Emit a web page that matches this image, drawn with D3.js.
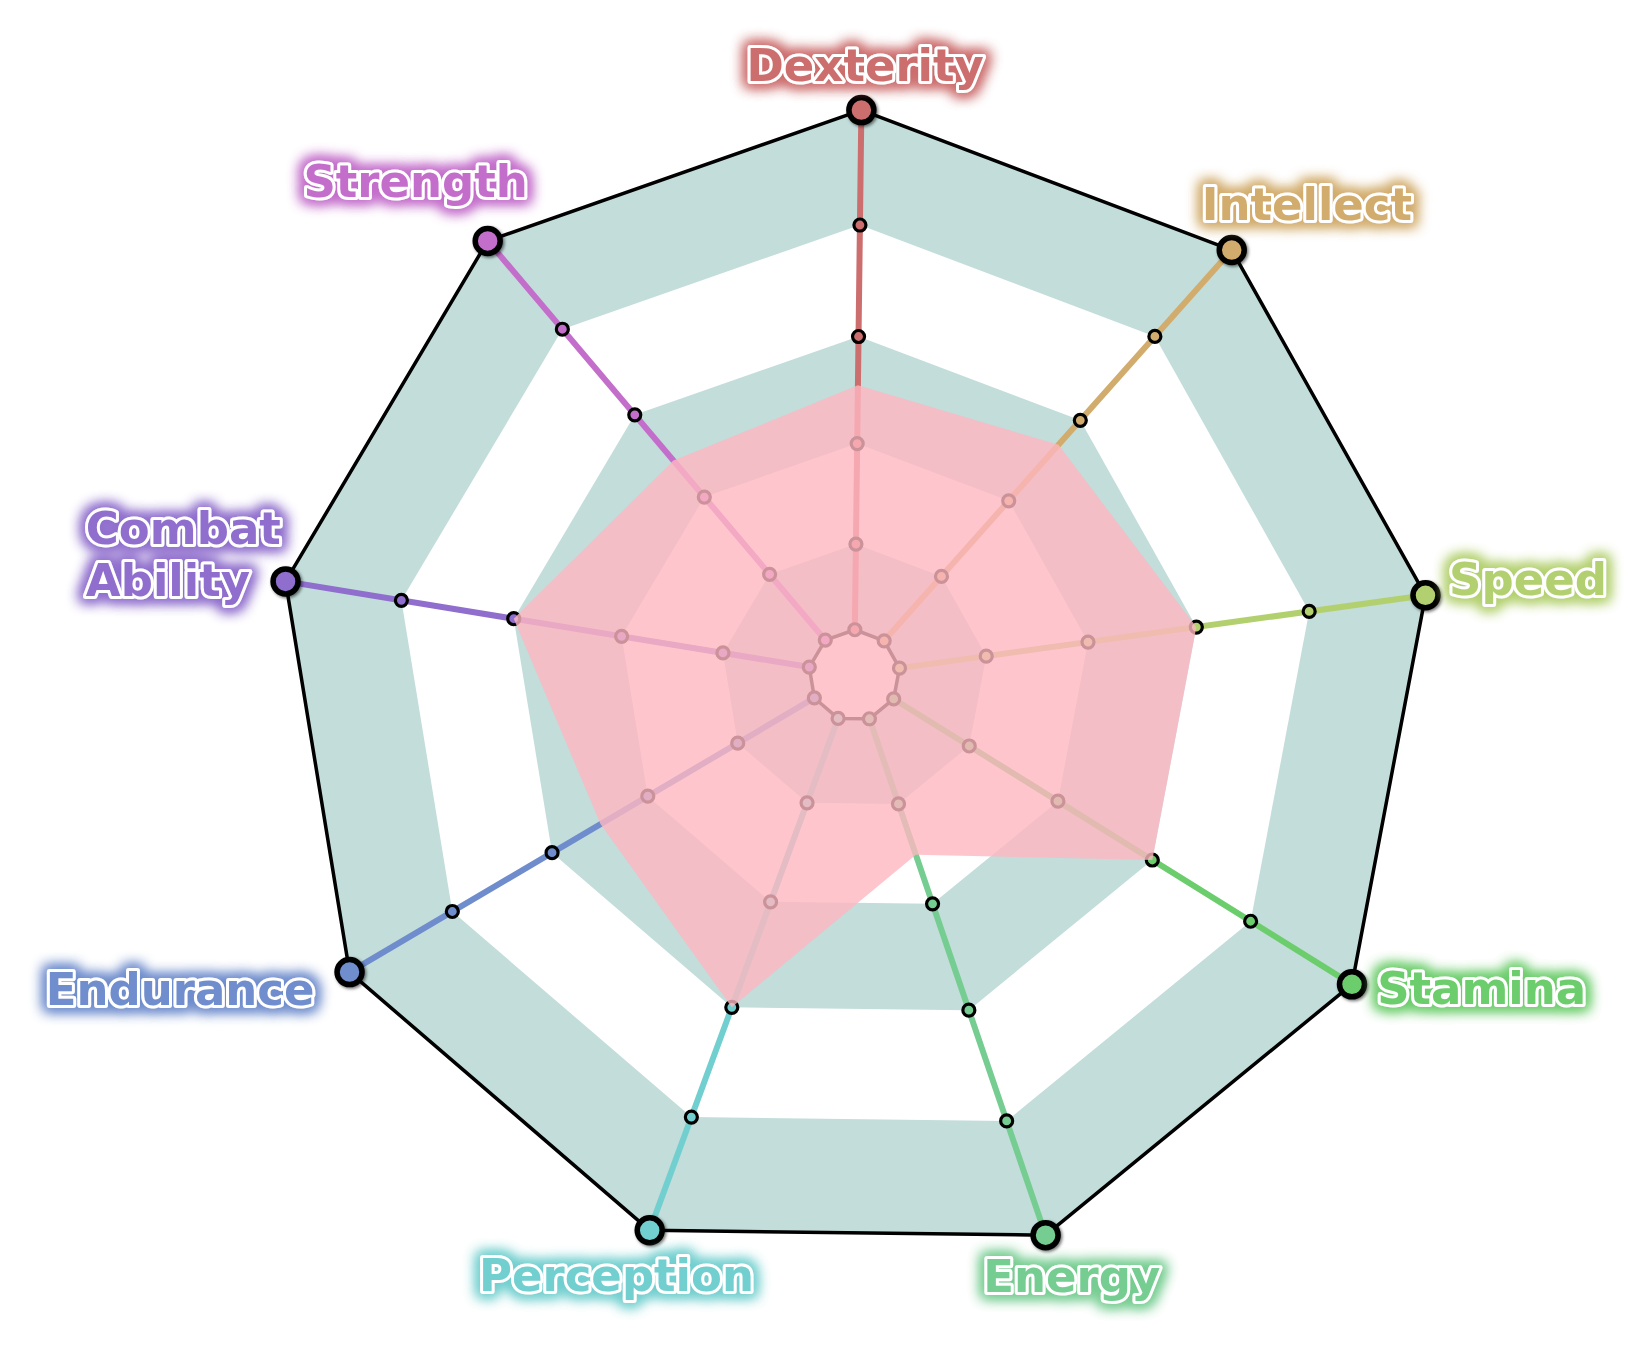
<!DOCTYPE html>
<html><head><meta charset="utf-8">
<script src="https://cdn.jsdelivr.net/npm/d3@7"></script>
<style>html,body{margin:0;padding:0;background:#fff;} svg{display:block;}</style>
</head><body>
<svg id="chart" width="1650" height="1350"></svg>
<script>
// ---- data ----
const categories = ["Dexterity","Intellect","Speed","Stamina","Energy","Perception","Endurance","Combat Ability","Strength"];
const values = [2.55, 2.7, 3, 3, 1.52, 3, 2.5, 3, 2.45];
const tickValues = [0, 1, 2, 3, 4, 5];
// ---- styles ----
const axisColors = ["#cd6e6e","#d2ac6c","#b3d06f","#6ccd6c","#76cd91","#72cfcf","#6f8dcd","#8f6ecd","#c46ecb"];
const bandColor = "#c2ddda";
const areaColor = "#ffb6c1";
// ---- label layout nudges (px) ----
const labelNudgeX = [2, -13, -5, 14, -13, 26, -26, 23, 18];
const labelNudgeY = [0, 10, 0, 0, 0, 4, 14, 0, -3];

const W = 1650, H = 1350;
const cx = 854.3, cy = 674.4;
const rotation = 0.7 * Math.PI / 180;
const drift = 0.025;
const fontSize = 45;

const svg = d3.select("#chart").attr("viewBox", `0 0 ${W} ${H}`);
svg.append("rect").attr("width", W).attr("height", H).attr("fill", "#fff");

const defs = svg.append("defs");
const shadow = defs.append("filter").attr("id", "shadow").attr("x", "-50%").attr("y", "-50%").attr("width", "200%").attr("height", "200%");
shadow.append("feDropShadow").attr("dx", 1.5).attr("dy", 1.5).attr("stdDeviation", 1.5).attr("flood-color", "#000").attr("flood-opacity", 0.55);
axisColors.forEach((col, i) => {
  const f = defs.append("filter").attr("id", "glow" + i)
    .attr("x", "-30%").attr("y", "-80%").attr("width", "160%").attr("height", "260%");
  f.append("feMorphology").attr("in", "SourceAlpha").attr("operator", "dilate").attr("radius", 3).attr("result", "dil");
  f.append("feGaussianBlur").attr("in", "dil").attr("stdDeviation", 6.5).attr("result", "blur");
  f.append("feFlood").attr("flood-color", col).attr("flood-opacity", 1).attr("result", "flood");
  f.append("feComposite").attr("in", "flood").attr("in2", "blur").attr("operator", "in").attr("result", "glowc");
  const m = f.append("feMerge");
  m.append("feMergeNode").attr("in", "glowc");
  m.append("feMergeNode").attr("in", "glowc");
  m.append("feMergeNode").attr("in", "SourceGraphic");
});

const angle = d3.scaleLinear().domain([0, categories.length]).range([rotation, rotation + 2 * Math.PI]);
const radius = d3.scalePow().exponent(1.12).domain([0, 5]).range([45.8, 578.8]);
const maxTick = d3.max(tickValues), minTick = d3.min(tickValues);

function project(a, r) { return [cx + r * Math.sin(a), cy - r * Math.cos(a) + drift * r]; }
const ringPoints = t => categories.map((c, i) => project(angle(i), radius(t)));
const line = d3.line().curve(d3.curveLinearClosed);

// grid bands
svg.append("g").selectAll("path")
  .data(tickValues.slice().sort((a, b) => b - a))
  .join("path")
  .attr("d", t => line(ringPoints(t)))
  .attr("fill", t => (t % 2 === 1) ? bandColor : "#fff");

// outer and inner outlines
svg.append("g").selectAll("path")
  .data([maxTick, minTick])
  .join("path")
  .attr("d", t => line(ringPoints(t)))
  .attr("fill", "none").attr("stroke", "#000").attr("stroke-width", 3.5)
  .attr("stroke-linejoin", "round");

// axis lines
svg.append("g").selectAll("line")
  .data(categories)
  .join("line")
  .each(function (c, i) {
    const p0 = project(angle(i), radius(minTick)), p1 = project(angle(i), radius(maxTick));
    d3.select(this).attr("x1", p0[0]).attr("y1", p0[1]).attr("x2", p1[0]).attr("y2", p1[1]);
  })
  .attr("stroke", (c, i) => axisColors[i]).attr("stroke-width", 6).attr("stroke-linecap", "round");

// small tick dots
const dotData = [];
categories.forEach((c, i) => tickValues.filter(t => t < maxTick).forEach(t => dotData.push({ i, t })));
svg.append("g").selectAll("circle")
  .data(dotData)
  .join("circle")
  .attr("cx", d => project(angle(d.i), radius(d.t))[0])
  .attr("cy", d => project(angle(d.i), radius(d.t))[1])
  .attr("r", 6)
  .attr("fill", d => axisColors[d.i]).attr("stroke", "#000").attr("stroke-width", 3.2);

// data area
svg.append("path")
  .datum(values)
  .attr("d", vs => line(vs.map((v, i) => project(angle(i), radius(v)))))
  .attr("fill", areaColor).attr("fill-opacity", 0.8);

// outer big dots
svg.append("g").selectAll("circle")
  .data(categories)
  .join("circle")
  .attr("cx", (c, i) => project(angle(i), radius(maxTick))[0])
  .attr("cy", (c, i) => project(angle(i), radius(maxTick))[1])
  .attr("r", 12.5)
  .attr("fill", (c, i) => axisColors[i]).attr("stroke", "#000").attr("stroke-width", 5.5)
  .attr("filter", "url(#shadow)");

// labels
const fontFamily = "'DejaVu Sans', 'Verdana', sans-serif";
const lineH = 52;
const capH = 0.729 * fontSize;
const labelG = svg.append("g");
categories.forEach((c, i) => {
  const a = angle(i);
  const color = axisColors[i];
  const A = project(a, radius(maxTick) + 30);
  const lines = c.includes(" ") ? c.split(" ") : [c];
  const t = labelG.append("text")
    .attr("font-family", fontFamily).attr("font-weight", "bold").attr("font-size", fontSize)
    .attr("fill", color).attr("stroke", "#fff").attr("stroke-width", 6)
    .attr("stroke-linejoin", "round").attr("paint-order", "stroke")
    .attr("filter", `url(#glow${i})`);
  lines.forEach(l => t.append("tspan").text(l));
  let w = 0;
  t.selectAll("tspan").each(function () { w = Math.max(w, this.getComputedTextLength()); });
  const s = Math.sin(a), co = Math.cos(a);
  const f = (1 - s) / 2;
  const left = A[0] - f * w + labelNudgeX[i];
  const gy = co > 0.9 ? 0 : co > 0.5 ? -0.55 : co > -0.6 ? 0.1 : 0.85;
  const base0 = A[1] + gy * capH - (lines.length - 1) * (lineH / 2 + 10) + labelNudgeY[i];
  t.selectAll("tspan").attr("x", left).attr("y", (d, k) => base0 + k * lineH);
});
</script>
</body></html>
